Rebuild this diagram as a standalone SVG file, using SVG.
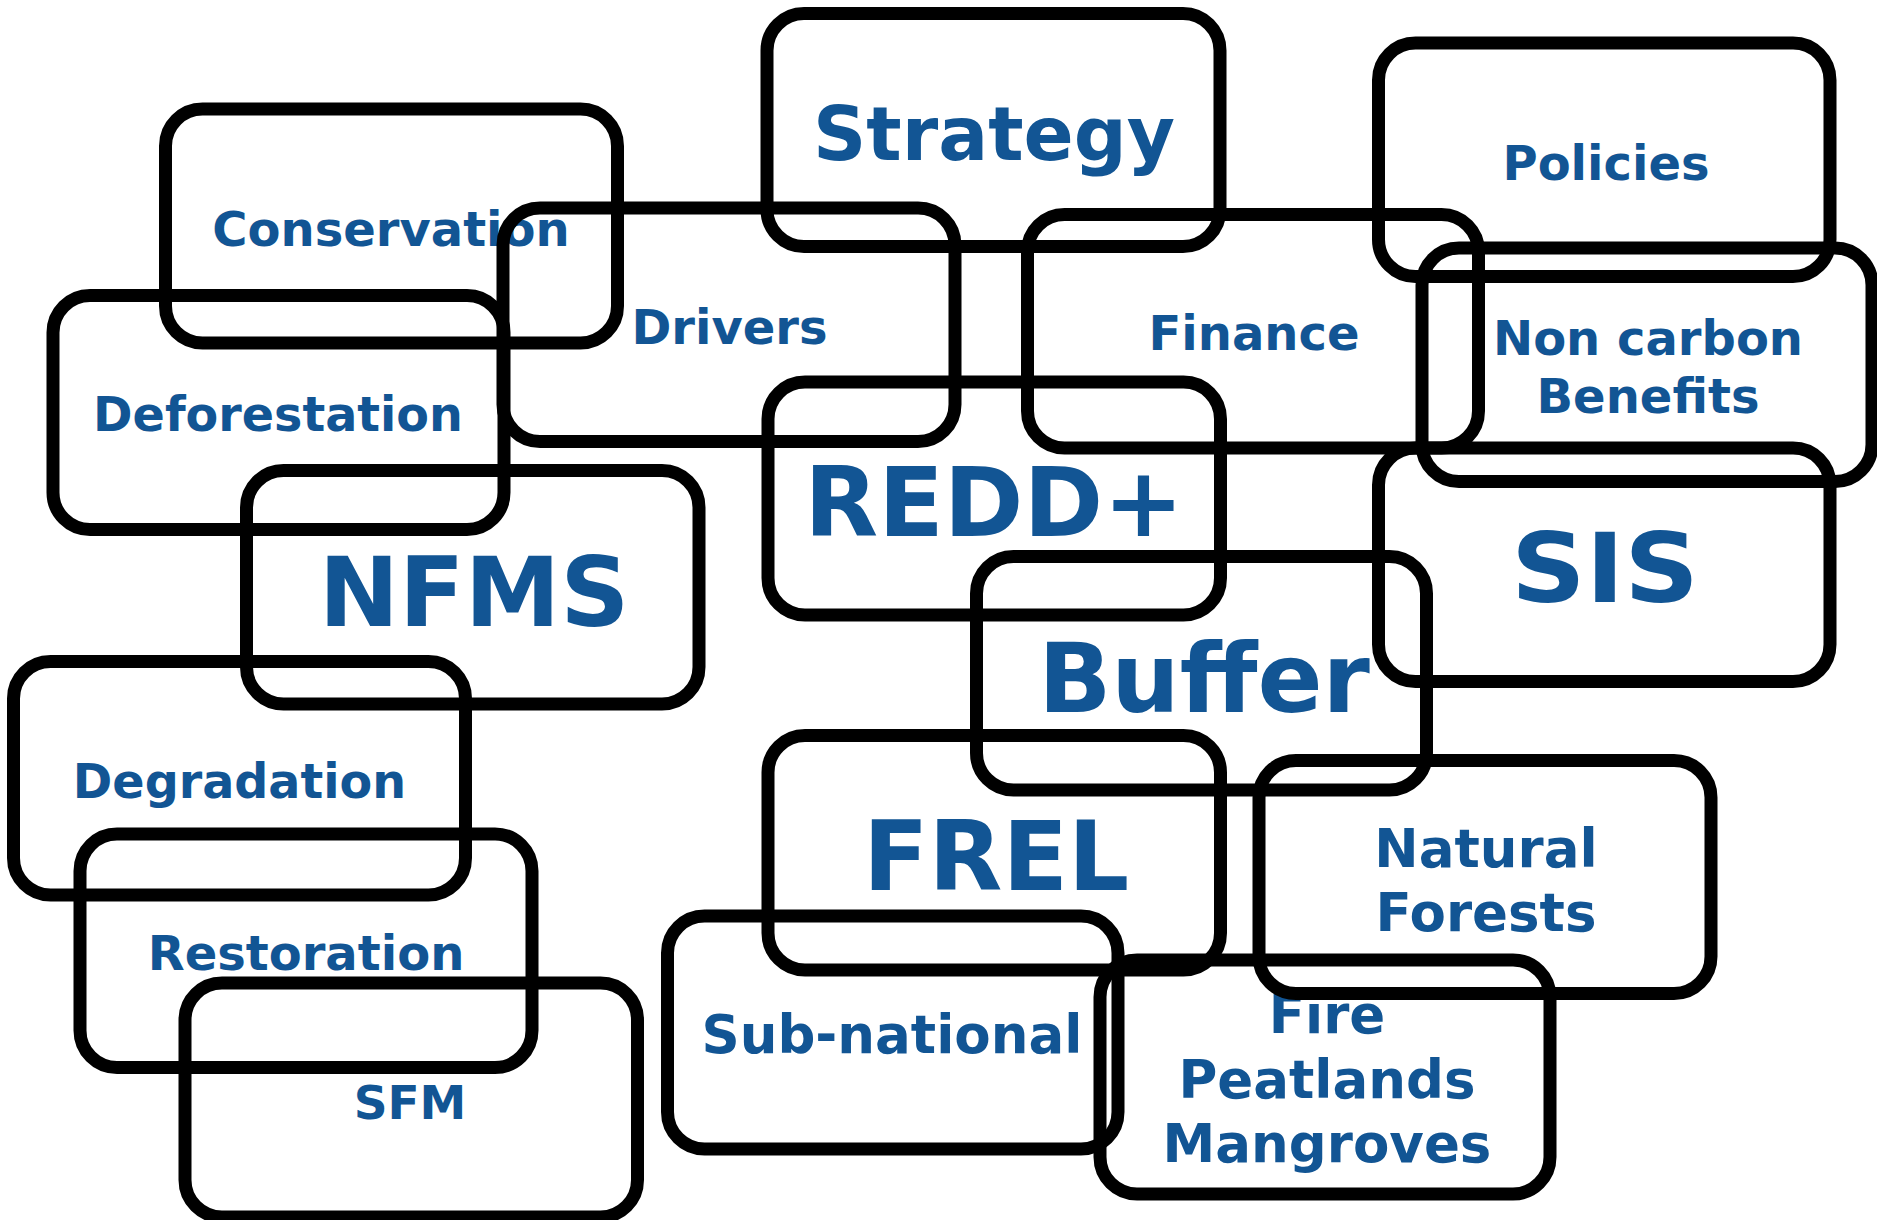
<svg xmlns="http://www.w3.org/2000/svg" width="1877" height="1220" viewBox="0 0 1877 1220">
<style>
.box{fill:none;stroke:#000;stroke-width:13}
.t{font-family:"DejaVu Sans","Liberation Sans",sans-serif;font-weight:bold;fill:#125594;text-anchor:middle}
.s{font-size:48px}
.m{font-size:53px}
.l{font-size:96px}
</style>
<rect width="1877" height="1220" fill="#fff"/>
<g id="connectors"/>
<g id="strategy"><rect class="box" x="767" y="13.5" width="453" height="233" rx="37"/><text class="t" x="994" y="160" font-size="74">Strategy</text></g>
<g id="conservation"><rect class="box" x="165.5" y="109" width="452" height="234" rx="37"/><text class="t s" x="391" y="246">Conservation</text></g>
<g id="drivers"><rect class="box" x="503" y="208" width="452" height="233.5" rx="37"/><text class="t s" x="729.5" y="344">Drivers</text></g>
<g id="deforestation"><rect class="box" x="53" y="295.5" width="451" height="234" rx="37"/><text class="t" x="278" y="431" font-size="47.6">Deforestation</text></g>
<g id="nfms"><rect class="box" x="246.5" y="470.5" width="452.5" height="233.5" rx="37"/><text class="t l" x="474" y="626">NFMS</text></g>
<g id="degradation"><rect class="box" x="13.5" y="661.5" width="452" height="233.5" rx="37"/><text class="t" x="239.5" y="797.5" font-size="47.6">Degradation</text></g>
<g id="restoration"><rect class="box" x="80" y="834" width="452" height="233.5" rx="37"/><text class="t s" x="306" y="970">Restoration</text></g>
<g id="sfm"><rect class="box" x="185" y="983" width="452.5" height="234" rx="37"/><text class="t" x="410" y="1119" font-size="47">SFM</text></g>
<g id="subnational"><rect class="box" x="667.5" y="916" width="450.5" height="233" rx="37"/><text class="t m" x="892" y="1053">Sub-national</text></g>
<g id="frel"><rect class="box" x="768" y="735.5" width="452.5" height="234.5" rx="37"/><text class="t l" x="996" y="890">FREL</text></g>
<g id="redd"><rect class="box" x="768" y="382" width="452.5" height="233" rx="37"/><text class="t l" x="994" y="536">REDD+</text></g>
<g id="buffer"><rect class="box" x="976.5" y="556.5" width="450" height="233.5" rx="37"/><text class="t l" x="1204" y="712">Buffer</text></g>
<g id="finance"><rect class="box" x="1027.5" y="214.5" width="451" height="233.5" rx="37"/><text class="t s" x="1254" y="350">Finance</text></g>
<g id="policies"><rect class="box" x="1378.5" y="43" width="451.5" height="233.5" rx="37"/><text class="t s" x="1606" y="180">Policies</text></g>
<g id="noncarbon"><rect class="box" x="1422" y="248" width="450" height="233.5" rx="37"/><text class="t s" x="1648" y="355">Non carbon</text><text class="t s" x="1648" y="412.5">Benefits</text></g>
<g id="sis"><rect class="box" x="1378.5" y="448" width="451.5" height="233.5" rx="37"/><text class="t l" x="1605" y="602" textLength="188" lengthAdjust="spacingAndGlyphs">SIS</text></g>
<g id="fire"><rect class="box" x="1100" y="960" width="450" height="234" rx="37"/><text class="t m" x="1327" y="1033">Fire</text><text class="t m" x="1327" y="1098">Peatlands</text><text class="t m" x="1327" y="1162">Mangroves</text></g>
<g id="natural"><rect class="box" x="1259" y="760.5" width="452" height="233" rx="37"/><text class="t m" x="1486" y="867">Natural</text><text class="t m" x="1486" y="930.6">Forests</text></g>
</svg>
